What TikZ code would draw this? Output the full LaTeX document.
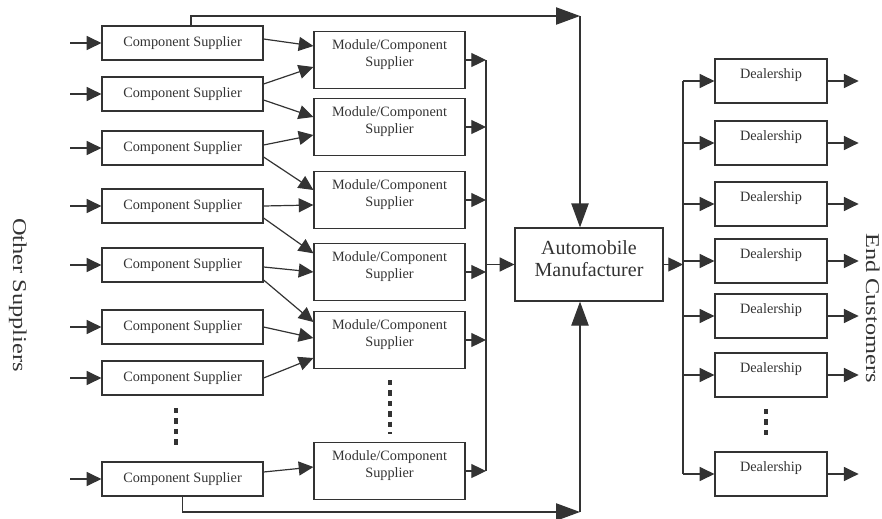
\documentclass[tikz,border=0pt]{standalone}
\usepackage{fontspec}
\setmainfont{Liberation Serif}
\usetikzlibrary{arrows.meta}
\tikzstyle{BOX}+=[draw, align=center, font=\fontsize{10.7}{12.75}\selectfont]
\tikzstyle{CS}+=[BOX, minimum width=120.75pt, minimum height=25.5pt]
\tikzstyle{MC}+=[BOX, minimum width=113.25pt, minimum height=42.75pt, text depth=10.5pt]
\tikzstyle{DL}+=[BOX, minimum width=84pt, minimum height=33pt, text height=7.5pt, text depth=11pt]
\tikzstyle{AM}+=[BOX, minimum width=111pt, minimum height=54.75pt, text depth=9.5pt, font=\fontsize{15}{16.5}\selectfont]
\tikzstyle{SIDE}+=[rotate=-90, anchor=base, font=\fontsize{18.3}{20}\selectfont]
\tikzstyle{BIG}+=[-{Triangle[length=18pt,width=13pt]}]
\tikzstyle{DOTS}+=[line width=3.2pt, dash pattern=on 4pt off 3.8pt]

\begin{document}
\begin{tikzpicture}[x=0.75pt,y=-0.75pt,line width=0.9pt,black!80,>={Triangle[length=11pt,width=10.5pt]}]
        \useasboundingbox (0,0) rectangle (882,518);

        \begin{scope}
            \path (182.5,43) node[CS] (cs1) {Component Supplier}
                  (182.5,94) node[CS] (cs2) {Component Supplier}
                  (182.5,148) node[CS] (cs3) {Component Supplier}
                  (182.5,206) node[CS] (cs4) {Component Supplier}
                  (182.5,265) node[CS] (cs5) {Component Supplier}
                  (182.5,327) node[CS] (cs6) {Component Supplier}
                  (182.5,378) node[CS] (cs7) {Component Supplier}
                  (182.5,479) node[CS] (cs8) {Component Supplier};
            \draw[<-] (cs1.west) -- +(-31,0);
            \draw[<-] (cs2.west) -- +(-31,0);
            \draw[<-] (cs3.west) -- +(-31,0);
            \draw[<-] (cs4.west) -- +(-31,0);
            \draw[<-] (cs5.west) -- +(-31,0);
            \draw[<-] (cs6.west) -- +(-31,0);
            \draw[<-] (cs7.west) -- +(-31,0);
            \draw[<-] (cs8.west) -- +(-31,0);
            \draw[DOTS] (176,408) -- (176,445);
            \node[SIDE] (os) at (13,295) {\scalebox{1}[0.8]{Other Suppliers}};
        \end{scope}

        \begin{scope}
            \path (389.5,60) node[MC] (m1) {Module/Component\\Supplier}
                  (389.5,127) node[MC] (m2) {Module/Component\\Supplier}
                  (389.5,200) node[MC] (m3) {Module/Component\\Supplier}
                  (389.5,272) node[MC] (m4) {Module/Component\\Supplier}
                  (389.5,340) node[MC] (m5) {Module/Component\\Supplier}
                  (389.5,471) node[MC] (m6) {Module/Component\\Supplier};
            \draw[DOTS] (390,380) -- (390,434);
            \draw[->] ([yshift=3pt]cs1.east) -- ([yshift=10.5pt]m1.west);
            \draw[->] ([yshift=7.5pt]cs2.east) -- ([yshift=-5.25pt]m1.west);
            \draw[->] ([yshift=-4.5pt]cs2.east) -- ([yshift=7.5pt]m2.west);
            \draw[->] ([yshift=2.25pt]cs3.east) -- ([yshift=-6pt]m2.west);
            \draw[->] ([yshift=-6.75pt]cs3.east) -- ([yshift=7.5pt]m3.west);
            \draw[->] (cs4.east) -- ([yshift=-3.75pt]m3.west);
            \draw[->] ([yshift=-9pt]cs4.east) -- ([yshift=14pt]m4.west);
            \draw[->] ([yshift=-1.5pt]cs5.east) -- (m4.west);
            \draw[->] ([yshift=-11.25pt]cs5.east) -- ([yshift=13.5pt]m5.west);
            \draw[->] (cs6.east) -- ([yshift=1.5pt]m5.west);
            \draw[->] (cs7.east) -- ([yshift=-13.5pt]m5.west);
            \draw[->] ([yshift=5.25pt]cs8.east) -- ([yshift=3pt]m6.west);
        \end{scope}

        \begin{scope}
            \node[AM] (auto) at (589,264.5) {Automobile\\Manufacturer};
            \coordinate (bus) at (486,0);
            \draw[->] (m1) -- (m1 -| bus);
            \draw[->] (m2) -- (m2 -| bus);
            \draw[->] (m3) -- (m3 -| bus);
            \draw[->] (m4) -- (m4 -| bus);
            \draw[->] (m5) -- (m5 -| bus);
            \draw[->] (m6) -- (m6 -| bus);
            \draw (m1 -| bus) -- (m6 -| bus);
            \draw[->] (auto -| bus) -- (auto);
            \coordinate (tr) at (580,16);
            \coordinate (br) at (580,512);
            \draw[BIG] ([xshift=6.4pt]cs1.north) |- (tr);
            \draw[BIG] (tr) -- (tr |- auto.north);
            \draw[BIG] (cs8.south) |- (br);
            \draw[BIG] (br) -- (br |- auto.south);
        \end{scope}

        \begin{scope}
            \path (771,81) node[DL] (d1) {Dealership}
                  (771,143) node[DL] (d2) {Dealership}
                  (771,204) node[DL] (d3) {Dealership}
                  (771,261) node[DL] (d4) {Dealership}
                  (771,316) node[DL] (d5) {Dealership}
                  (771,375) node[DL] (d6) {Dealership}
                  (771,474) node[DL] (d7) {Dealership};
            \draw[DOTS] (766,409) -- (766,439);
            \coordinate (dbus) at (683,0);
            \draw[->] (auto) -- (auto -| dbus);
            \draw (d1 -| dbus) -- (d7 -| dbus);
            \draw[->] (d1 -| dbus) -- (d1);
            \draw[->] (d2 -| dbus) -- (d2);
            \draw[->] (d3 -| dbus) -- (d3);
            \draw[->] (d4 -| dbus) -- (d4);
            \draw[->] (d5 -| dbus) -- (d5);
            \draw[->] (d6 -| dbus) -- (d6);
            \draw[->] (d7 -| dbus) -- (d7);
            \draw[->] (d1.east) -- +(31,0);
            \draw[->] (d2.east) -- +(31,0);
            \draw[->] (d3.east) -- +(31,0);
            \draw[->] (d4.east) -- +(31,0);
            \draw[->] (d5.east) -- +(31,0);
            \draw[->] (d6.east) -- +(31,0);
            \draw[->] (d7.east) -- +(31,0);
            \node[SIDE] (ec) at (866,308) {\scalebox{1}[0.8]{End Customers}};
        \end{scope}

    \end{tikzpicture}
\end{document}
